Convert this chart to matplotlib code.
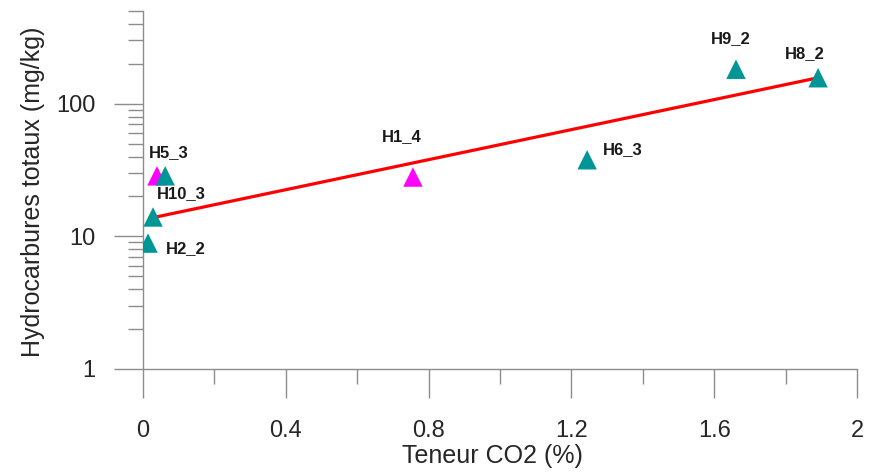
import numpy as np
import matplotlib.pyplot as plt
from matplotlib.ticker import FixedLocator, LogLocator, NullFormatter

plt.rcParams['font.family'] = ['Liberation Sans', 'DejaVu Sans']

# data
co2 = [0.039, 0.062, 0.028, 0.014, 0.756, 1.244, 1.661, 1.891]
hct = [28.6, 28.6, 14.0, 8.9, 28.0, 37.8, 182, 157]
colors = ['#ff00ff', '#009696', '#009696', '#009696', '#ff00ff',
          '#009696', '#009696', '#009696']
names = ['H5_3', 'H10_3', '', 'H2_2', 'H1_4', 'H6_3', 'H9_2', 'H8_2']
# label offsets in points from each marker
offsets = [(8.6, 16.6), (11.5, -13), (0, 0), (27.4, -4.3), (-7.9, 28.8),
           (26, 7.2), (-3.6, 22.3), (-9.4, 17.3)]

# trend line ends
fit_x = [0.02, 1.891]
fit_y = [13.7, 157]

xticks = [0, 0.4, 0.8, 1.2, 1.6, 2]
xlabels = ['0', '0.4', '0.8', '1.2', '1.6', '2']

fig = plt.figure(figsize=(8.69, 4.73), dpi=100)
ax = fig.add_axes([0.1646, 0.2199, 0.8216, 0.7568])

ax.plot(fit_x, fit_y, color='#ff0000', lw=2.3, zorder=2)
ax.scatter(co2, hct, marker='^', s=14**2, c=colors, linewidths=0, zorder=3)

for x, y, n, off in zip(co2, hct, names, offsets):
    if n:
        ax.annotate(n, (x, y), xytext=off, textcoords='offset points',
                    ha='center', va='center', fontsize=12,
                    fontweight='bold', color='#1a1a1a')

ax.set_yscale('log')
ax.set_xlim(0, 2)
ax.set_ylim(1, 500)

axis_col = '#8c8c8c'
for s in ['top', 'right']:
    ax.spines[s].set_visible(False)
for s in ['left', 'bottom']:
    ax.spines[s].set_color(axis_col)
    ax.spines[s].set_linewidth(1.0)

ax.xaxis.set_major_locator(FixedLocator(xticks))
ax.set_xticklabels(xlabels)
ax.xaxis.set_minor_locator(FixedLocator([0.2, 0.6, 1.0, 1.4, 1.8]))
ax.yaxis.set_major_locator(FixedLocator([1, 10, 100]))
ax.set_yticklabels(['1', '10', '100'])
ax.yaxis.set_minor_locator(LogLocator(base=10, subs=np.arange(2, 10)))
ax.yaxis.set_minor_formatter(NullFormatter())

ax.tick_params(axis='both', which='major', direction='out', length=21,
               width=1.0, color=axis_col, labelsize=17, labelcolor='#262626')
ax.tick_params(axis='both', which='minor', direction='out', length=10.8,
               width=1.0, color=axis_col)
ax.tick_params(axis='x', which='major', pad=16)
ax.tick_params(axis='y', which='major', pad=13)

ax.set_xlabel('Teneur CO2 (%)', fontsize=18, color='#262626')
ax.set_ylabel('Hydrocarbures totaux (mg/kg)', fontsize=18, color='#262626')
ax.xaxis.set_label_coords(0.489, -0.21)
ax.yaxis.set_label_coords(-0.137, 0.494)

fig.savefig('out.png', dpi=100)
